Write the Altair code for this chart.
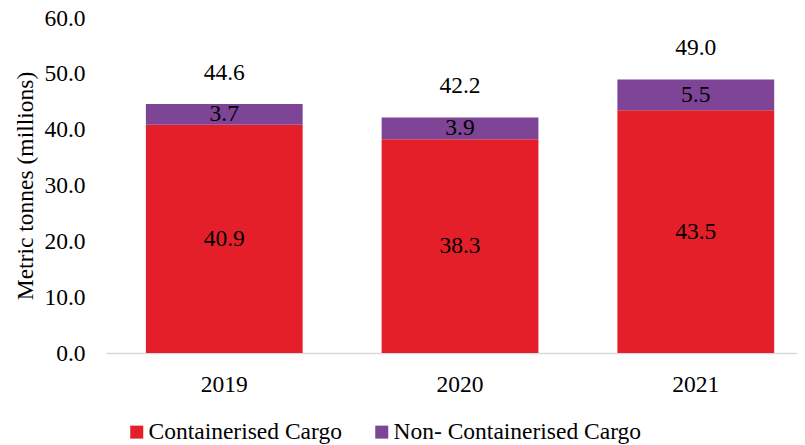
import altair as alt
import pandas as pd

years = ["2019", "2020", "2021"]
containerised = [40.9, 38.3, 43.5]
non_containerised = [3.7, 3.9, 5.5]
totals = [44.6, 42.2, 49.0]
series_names = ["Containerised Cargo", "Non- Containerised Cargo"]
colors = ["#E51F2A", "#7E4496"]
y_ticks = [0, 10, 20, 30, 40, 50, 60]

FONT = "Liberation Serif"
FS = 23.5

rows = []
for i, y in enumerate(years):
    c = containerised[i]
    n = non_containerised[i]
    rows.append({"year": y, "series": series_names[0], "value": c, "order": 0,
                 "mid": c / 2, "label": f"{c:.1f}"})
    rows.append({"year": y, "series": series_names[1], "value": n, "order": 1,
                 "mid": c + n / 2, "label": f"{n:.1f}"})
df = pd.DataFrame(rows)
tot = pd.DataFrame({"year": years, "total": totals,
                    "label": [f"{t:.1f}" for t in totals]})

xscale = alt.Scale(domain=years, paddingInner=0.335, paddingOuter=0.133, align=0.636)
yscale = alt.Scale(domain=[0, 60], nice=False, zero=True)

x_enc = alt.X("year:N", scale=xscale, sort=years,
              axis=alt.Axis(title=None, labelAngle=0, ticks=False, labelPadding=19,
                            domainColor="#D9D9D9", domainWidth=1.5,
                            labelFont=FONT, labelFontSize=FS, labelColor="#000000"))

bars = alt.Chart(df).mark_bar().encode(
    x=x_enc,
    y=alt.Y("sum(value):Q", stack="zero", scale=yscale,
            axis=alt.Axis(title="Metric tonnes (millions)", values=y_ticks, format=".1f",
                          grid=False, domain=False, ticks=False, labelPadding=21,
                          labelFont=FONT, labelFontSize=FS, labelColor="#000000",
                          titleFont=FONT, titleFontSize=FS, titleFontWeight="normal",
                          titleColor="#000000", titlePadding=6)),
    color=alt.Color("series:N", scale=alt.Scale(domain=series_names, range=colors),
                    legend=alt.Legend(title=None, orient="none", direction="horizontal",
                                      legendX=19, legendY=402, symbolType="square",
                                      symbolSize=169, symbolStrokeWidth=0, padding=0,
                                      labelFont=FONT, labelFontSize=FS, labelColor="#000000",
                                      labelOffset=0, columnPadding=28, labelLimit=400)),
    order=alt.Order("order:Q"),
)

seg_labels = alt.Chart(df).mark_text(font=FONT, fontSize=FS, color="#000000",
                                     baseline="middle").encode(
    x=alt.X("year:N", scale=xscale, sort=years),
    y=alt.Y("mid:Q", scale=yscale),
    text="label:N",
)

tot_labels = alt.Chart(tot).mark_text(font=FONT, fontSize=FS, color="#000000",
                                      baseline="middle", dy=-31).encode(
    x=alt.X("year:N", scale=xscale, sort=years),
    y=alt.Y("total:Q", scale=yscale),
    text="label:N",
)

chart = alt.layer(bars, seg_labels, tot_labels).properties(
    width=691, height=335,
    autosize=alt.AutoSizeParams(type="none"),
    padding={"left": 98, "top": 10, "right": 0, "bottom": 92},
).configure_view(stroke=None)

chart.save("out.html", embed_options={"renderer": "svg", "actions": False})
